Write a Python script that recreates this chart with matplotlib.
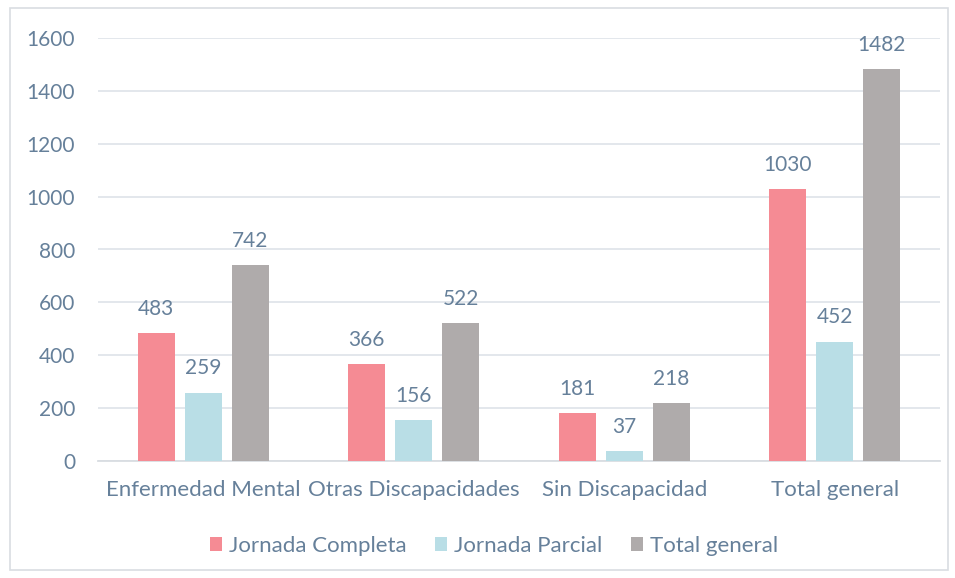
import matplotlib
matplotlib.use("Agg")
import matplotlib.pyplot as plt
import numpy as np
from matplotlib.patches import Rectangle

categories = ["Enfermedad Mental", "Otras Discapacidades", "Sin Discapacidad", "Total general"]
series_names = ["Jornada Completa", "Jornada Parcial", "Total general"]
jornada_completa = [483, 366, 181, 1030]
jornada_parcial = [259, 156, 37, 452]
total_general = [742, 522, 218, 1482]
y_ticks = [0, 200, 400, 600, 800, 1000, 1200, 1400, 1600]

colors = ["#F58B94", "#B9DEE6", "#AFABAB"]
text_color = "#66809A"
grid_color = "#E1E5EA"

plt.rcParams['font.family'] = ['Lato', 'DejaVu Sans']

fig = plt.figure(figsize=(9.55, 5.78), dpi=100)
# outer chart border
fig.patches.append(Rectangle((10/955, 1-570/578), 938/955, 562/578, transform=fig.transFigure,
                             fill=False, edgecolor="#D9DDE2", linewidth=1.2))

ax = fig.add_axes([98/955, 1-461/578, 842/955, 423/578])
x = np.arange(len(categories))
width = 0.176
step = 0.223
all_series = [jornada_completa, jornada_parcial, total_general]
for i, (vals, name, c) in enumerate(zip(all_series, series_names, colors)):
    bars = ax.bar(x + (i-1)*step, vals, width, color=c, label=name, zorder=3)
    for b, v in zip(bars, vals):
        ax.annotate(str(v), (b.get_x()+b.get_width()/2, v), xytext=(0, 13),
                    textcoords="offset points", ha="center", va="baseline",
                    fontsize=15, color=text_color)

ax.set_xlim(-0.5, len(categories)-0.5)
ax.set_ylim(0, 1600)
ax.set_yticks(y_ticks)
ax.set_xticks(x)
ax.set_xticklabels(categories)
ax.tick_params(axis='y', length=0, labelsize=15, labelcolor=text_color, pad=16.5)
ax.tick_params(axis='x', length=0, labelsize=16, labelcolor=text_color, pad=14)
ax.grid(axis='y', color=grid_color, linewidth=1.3, zorder=0)
for s in ['top', 'right', 'left']:
    ax.spines[s].set_visible(False)
ax.spines['bottom'].set_color("#D9DDE2")
ax.spines['bottom'].set_linewidth(1.3)

leg = fig.legend(loc='center', bbox_to_anchor=(494/955, 1-546/578), ncol=3, frameon=False,
                 fontsize=16, handlelength=0.55, handleheight=0.55, handletextpad=0.3,
                 columnspacing=1.3)
for t in leg.get_texts():
    t.set_color(text_color)

fig.savefig("out.png", dpi=100)
